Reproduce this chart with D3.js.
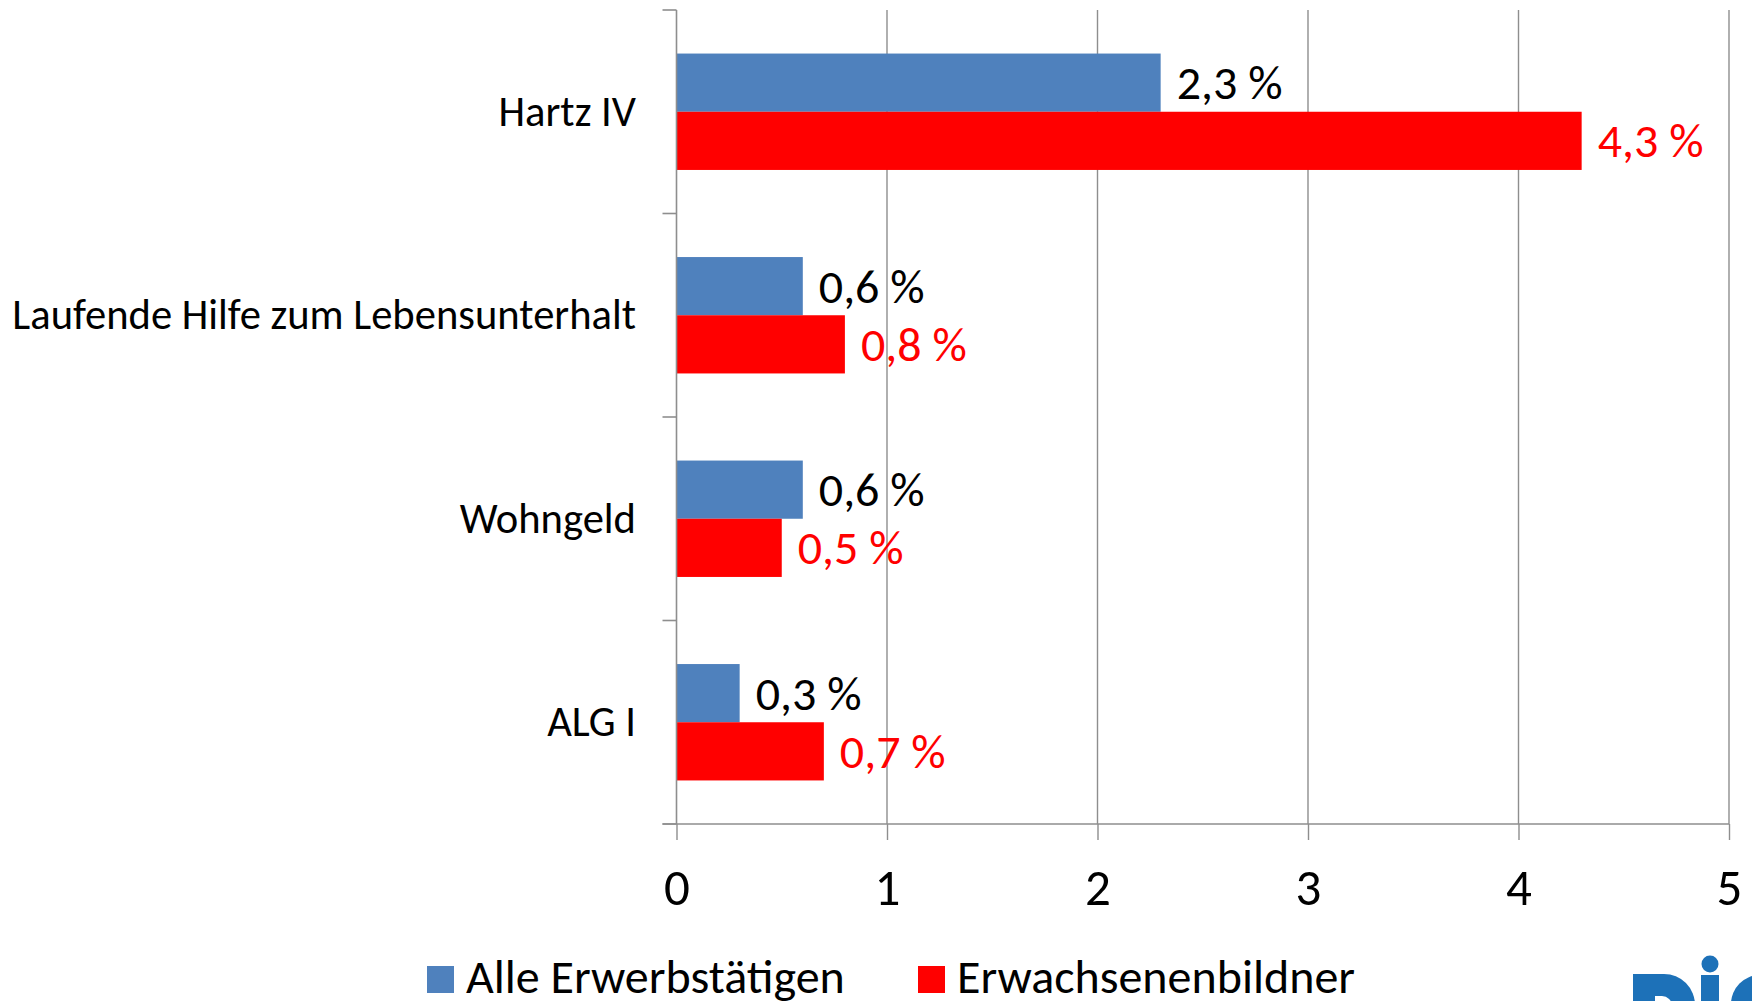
<!DOCTYPE html>
<html>
<head>
<meta charset="utf-8">
<script src="https://cdn.jsdelivr.net/npm/d3@7"></script>
<style>
  html, body { margin: 0; padding: 0; background: #fff; }
  svg { display: block; }
  text { font-family: Carlito, Calibri, Lato, "Open Sans", sans-serif; }
</style>
</head>
<body>
<svg id="chart" width="1752" height="1001"></svg>
<script>
// ---- data ----
const categories = ["Hartz IV", "Laufende Hilfe zum Lebensunterhalt", "Wohngeld", "ALG I"];
const seriesNames = ["Alle Erwerbstätigen", "Erwachsenenbildner"];
const alleErwerbstaetigen = [2.3, 0.6, 0.6, 0.3];
const erwachsenenbildner = [4.3, 0.8, 0.5, 0.7];
const xTicks = [0, 1, 2, 3, 4, 5];
const seriesColors = ["#4f81bd", "#ff0000"];
const labelColors = ["#000000", "#ff0000"];

const seriesValues = [alleErwerbstaetigen, erwachsenenbildner];

(function () {
const svg = d3.select("#chart");
svg.append("rect").attr("width", 1752).attr("height", 1001).attr("fill", "#fff");

const pLeft = 676.5, pRight = 1729, pTop = 10, pBottom = 824;
const x = d3.scaleLinear().domain([0, 5]).range([pLeft, pRight]);
const y = d3.scaleBand().domain(categories).range([pTop, pBottom])
  .paddingInner(0.428).paddingOuter(0.214);
const ySub = d3.scaleBand().domain(seriesNames).range([0, y.bandwidth()]).padding(0);

const gridColor = "#8e8e8e";

// vertical gridlines
svg.append("g").selectAll("line").data(xTicks.filter(d => d > 0)).join("line")
  .attr("x1", d => x(d)).attr("x2", d => x(d))
  .attr("y1", pTop).attr("y2", pBottom)
  .attr("stroke", gridColor).attr("stroke-width", 1.4);

// bars
const groups = svg.append("g").selectAll("g").data(categories).join("g")
  .attr("transform", c => `translate(0,${y(c)})`);

seriesNames.forEach((s, si) => {
  groups.append("rect")
    .attr("x", x(0))
    .attr("y", ySub(s))
    .attr("width", (c, i) => x(seriesValues[si][i]) - x(0))
    .attr("height", ySub.bandwidth())
    .attr("fill", seriesColors[si]);
  groups.append("text")
    .attr("x", (c, i) => x(seriesValues[si][i]) + 16)
    .attr("y", ySub(s) + ySub.bandwidth() / 2 + 16.5)
    .attr("font-size", 48)
    .attr("fill", labelColors[si])
    .text((c, i) => seriesValues[si][i].toFixed(1).replace(".", ",") + " %");
});

// x axis
const xAxis = d3.axisBottom(x).tickValues(xTicks).tickSize(16).tickPadding(0).tickFormat(d => d);
const gx = svg.append("g").attr("transform", `translate(0,${pBottom})`).call(xAxis);
gx.select(".domain").remove();
gx.selectAll(".tick line").attr("stroke", gridColor).attr("stroke-width", 1.4);
gx.selectAll(".tick text").attr("font-size", 51).attr("fill", "#000")
  .attr("dy", null).attr("y", 81);
svg.append("line").attr("x1", pLeft - 14).attr("x2", pRight).attr("y1", pBottom).attr("y2", pBottom)
  .attr("stroke", gridColor).attr("stroke-width", 1.6);

// y axis: line + boundary ticks
svg.append("line").attr("x1", pLeft).attr("x2", pLeft).attr("y1", pTop).attr("y2", pBottom)
  .attr("stroke", gridColor).attr("stroke-width", 1.6);
const boundaries = d3.range(categories.length + 1).map(i => pTop + i * y.step());
svg.append("g").selectAll("line").data(boundaries).join("line")
  .attr("x1", pLeft - 14).attr("x2", pLeft).attr("y1", d => d).attr("y2", d => d)
  .attr("stroke", gridColor).attr("stroke-width", 1.6);

// category labels
svg.append("g").selectAll("text").data(categories).join("text")
  .attr("x", 636)
  .attr("y", c => y(c) + y.bandwidth() / 2 + 14)
  .attr("text-anchor", "end")
  .attr("font-size", 42.6)
  .attr("fill", "#000")
  .text(c => c);

// legend
const legendX = [427, 918];
const lg = svg.append("g").selectAll("g").data(seriesNames).join("g")
  .attr("transform", (d, i) => `translate(${legendX[i]},966)`);
lg.append("rect").attr("width", 27).attr("height", 27).attr("fill", (d, i) => seriesColors[i]);
lg.append("text").attr("x", 39).attr("y", 27).attr("font-size", 48).attr("fill", "#000").text(d => d);

// logo fragment (bottom right)
const logo = svg.append("g").attr("fill", "#1d71b8");
logo.append("path").attr("d", "M1633,974 H1664 A31,31 0 0 1 1695,1005 V1012 H1633 Z");
logo.append("path").attr("fill", "#fff").attr("d", "M1655,996 H1662 A10,10 0 0 1 1672,1006 V1012 H1655 Z");
logo.append("circle").attr("cx", 1710).attr("cy", 964).attr("r", 8.5);
logo.append("rect").attr("x", 1701).attr("y", 975).attr("width", 18).attr("height", 40);
logo.append("circle").attr("cx", 1760).attr("cy", 1004).attr("r", 29);
})();
</script>
</body>
</html>
